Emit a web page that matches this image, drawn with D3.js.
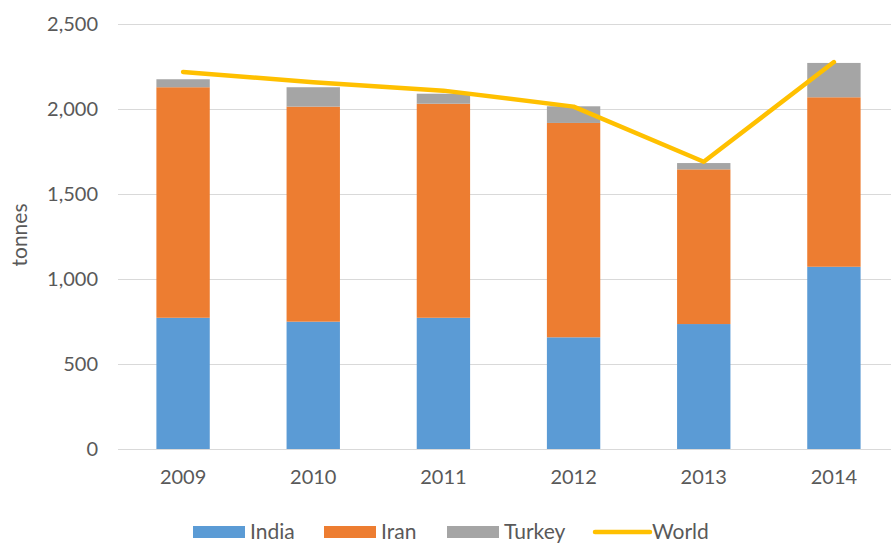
<!DOCTYPE html>
<html>
<head>
<meta charset="utf-8">
<script src="https://cdn.jsdelivr.net/npm/d3@7"></script>
<style>
  body { margin: 0; background: #fff; }
  svg text { font-family: Lato, "Open Sans", sans-serif; fill: #595959; }
</style>
</head>
<body>
<svg id="chart" width="891" height="544"></svg>
<script>
var years = ["2009", "2010", "2011", "2012", "2013", "2014"];
var india = [772, 749, 772, 657, 735, 1072];
var iran = [1356, 1265, 1259, 1261, 910, 997];
var turkey = [47, 114, 59, 98, 37, 202];
var world = [2218, 2157, 2108, 2014, 1690, 2276];
var yTicks = [0, 500, 1000, 1500, 2000, 2500];

var seriesNames = ["India", "Iran", "Turkey"];
var colors = { India: "#5B9BD5", Iran: "#ED7D31", Turkey: "#A5A5A5", World: "#FFC000" };

var rows = years.map(function (y, i) {
    return { year: y, India: india[i], Iran: iran[i], Turkey: turkey[i] };
});

var svg = d3.select("#chart");

var x = d3.scaleBand().domain(years).range([118, 899]).paddingInner(0.59).paddingOuter(0.295);
var y = d3.scaleLinear().domain([0, 2500]).range([449, 24]);

// gridlines
svg.append("g")
    .selectAll("line")
    .data(yTicks)
    .enter()
    .append("line")
    .attr("x1", 118)
    .attr("x2", 891)
    .attr("y1", d => y(d) + 0.5)
    .attr("y2", d => y(d) + 0.5)
    .attr("stroke", "#D9D9D9")
    .attr("stroke-width", 1);

// y axis labels
var yAxis = svg.append("g")
    .attr("transform", "translate(98,0)")
    .call(d3.axisLeft(y).tickValues(yTicks).tickSize(0).tickPadding(0).tickFormat(d3.format(",")));
yAxis.select(".domain").remove();
yAxis.selectAll("text").attr("font-size", "20px").attr("fill", "#595959");

// stacked bars
var stack = d3.stack().keys(seriesNames)(rows);
svg.append("g")
    .selectAll("g")
    .data(stack)
    .enter()
    .append("g")
    .attr("fill", d => colors[d.key])
    .selectAll("rect")
    .data(d => d)
    .enter()
    .append("rect")
    .attr("x", d => x(d.data.year))
    .attr("width", x.bandwidth())
    .attr("y", d => y(d[1]))
    .attr("height", d => y(d[0]) - y(d[1]));

// world line
var line = d3.line()
    .x((d, i) => x(years[i]) + x.bandwidth() / 2)
    .y(d => y(d));
svg.append("path")
    .datum(world)
    .attr("d", line)
    .attr("fill", "none")
    .attr("stroke", colors.World)
    .attr("stroke-width", 4.5)
    .attr("stroke-linecap", "round")
    .attr("stroke-linejoin", "round");

// x axis labels
var xAxis = svg.append("g")
    .attr("transform", "translate(0,470)")
    .call(d3.axisBottom(x).tickSize(0).tickPadding(0));
xAxis.select(".domain").remove();
xAxis.selectAll("text").attr("font-size", "20px").attr("fill", "#595959");

// y title
svg.append("text")
    .attr("transform", "translate(27,235) rotate(-90)")
    .attr("text-anchor", "middle")
    .attr("font-size", "21px")
    .text("tonnes");

// legend
var legendItems = [
    { name: "India", x: 193, type: "rect" },
    { name: "Iran", x: 324, type: "rect" },
    { name: "Turkey", x: 447, type: "rect" },
    { name: "World", x: 595, type: "line" }
];
var legend = svg.append("g").attr("class", "legend");
var items = legend.selectAll("g")
    .data(legendItems)
    .enter()
    .append("g")
    .attr("transform", d => "translate(" + d.x + ",532)");

items.filter(d => d.type === "rect")
    .append("rect")
    .attr("x", 0)
    .attr("y", -6)
    .attr("width", 52)
    .attr("height", 12)
    .attr("fill", d => colors[d.name]);

items.filter(d => d.type === "line")
    .append("line")
    .attr("x1", 0)
    .attr("x2", 55)
    .attr("y1", 0)
    .attr("y2", 0)
    .attr("stroke", d => colors[d.name])
    .attr("stroke-width", 4.5)
    .attr("stroke-linecap", "round");

items.append("text")
    .attr("x", 57)
    .attr("y", 0)
    .attr("dy", "0.35em")
    .attr("font-size", "21px")
    .text(d => d.name);
</script>
</body>
</html>
